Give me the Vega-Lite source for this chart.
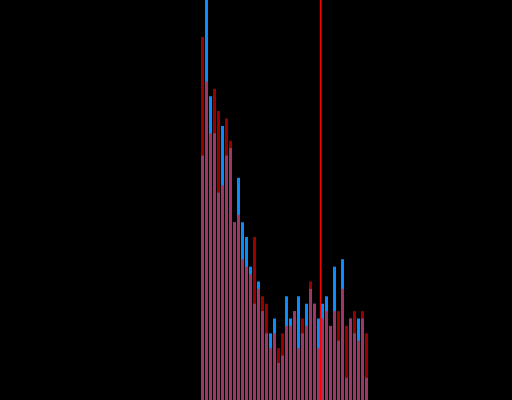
{
  "$schema": "https://vega.github.io/schema/vega-lite/v6.json",
  "width": 512,
  "height": 400,
  "padding": 0,
  "autosize": {"type": "none"},
  "background": "black",
  "config": {"view": {"stroke": null}},
  "datasets": {
    "hist": [
      {"start": 50, "end": 51, "blue": 33, "red": 49},
      {"start": 51, "end": 52, "blue": 54, "red": 43},
      {"start": 52, "end": 53, "blue": 41, "red": 36},
      {"start": 53, "end": 54, "blue": 36, "red": 42},
      {"start": 54, "end": 55, "blue": 28, "red": 39},
      {"start": 55, "end": 56, "blue": 37, "red": 29},
      {"start": 56, "end": 57, "blue": 33, "red": 38},
      {"start": 57, "end": 58, "blue": 34, "red": 35},
      {"start": 58, "end": 59, "blue": 24, "red": 24},
      {"start": 59, "end": 60, "blue": 30, "red": 25},
      {"start": 60, "end": 61, "blue": 24, "red": 19},
      {"start": 61, "end": 62, "blue": 22, "red": 18},
      {"start": 62, "end": 63, "blue": 18, "red": 17},
      {"start": 63, "end": 64, "blue": 13, "red": 22},
      {"start": 64, "end": 65, "blue": 16, "red": 15},
      {"start": 65, "end": 66, "blue": 12, "red": 14},
      {"start": 66, "end": 67, "blue": 9, "red": 13},
      {"start": 67, "end": 68, "blue": 9, "red": 7},
      {"start": 68, "end": 69, "blue": 11, "red": 9},
      {"start": 69, "end": 70, "blue": 5, "red": 7},
      {"start": 70, "end": 71, "blue": 6, "red": 9},
      {"start": 71, "end": 72, "blue": 14, "red": 10},
      {"start": 72, "end": 73, "blue": 11, "red": 10},
      {"start": 73, "end": 74, "blue": 12, "red": 12},
      {"start": 74, "end": 75, "blue": 14, "red": 7},
      {"start": 75, "end": 76, "blue": 9, "red": 11},
      {"start": 76, "end": 77, "blue": 13, "red": 10},
      {"start": 77, "end": 78, "blue": 15, "red": 16},
      {"start": 78, "end": 79, "blue": 13, "red": 13},
      {"start": 79, "end": 80, "blue": 11, "red": 7},
      {"start": 80, "end": 81, "blue": 13, "red": 11},
      {"start": 81, "end": 82, "blue": 14, "red": 12},
      {"start": 82, "end": 83, "blue": 10, "red": 10},
      {"start": 83, "end": 84, "blue": 18, "red": 12},
      {"start": 84, "end": 85, "blue": 8, "red": 12},
      {"start": 85, "end": 86, "blue": 19, "red": 15},
      {"start": 86, "end": 87, "blue": 3, "red": 10},
      {"start": 87, "end": 88, "blue": 11, "red": 11},
      {"start": 88, "end": 89, "blue": 9, "red": 12},
      {"start": 89, "end": 90, "blue": 11, "red": 8},
      {"start": 90, "end": 91, "blue": 11, "red": 12},
      {"start": 91, "end": 92, "blue": 3, "red": 9}
    ],
    "marker": [{"value": 80.15}]
  },
  "layer": [
    {
      "data": {"name": "hist"},
      "mark": {"type": "bar", "color": "#0a8cff", "clip": true},
      "encoding": {
        "x": {"field": "start", "type": "quantitative", "bin": "binned", "scale": {"domain": [0, 128], "nice": false, "zero": false}, "axis": null},
        "x2": {"field": "end"},
        "y": {"field": "blue", "type": "quantitative", "scale": {"domain": [0, 54], "nice": false}, "axis": null}
      }
    },
    {
      "data": {"name": "hist"},
      "mark": {"type": "bar", "color": "#ff0000", "opacity": 0.6, "clip": true},
      "encoding": {
        "x": {"field": "start", "type": "quantitative", "bin": "binned", "axis": null},
        "x2": {"field": "end"},
        "y": {"field": "red", "type": "quantitative", "axis": null}
      }
    },
    {
      "data": {"name": "marker"},
      "mark": {"type": "rule", "color": "#ff0000", "strokeWidth": 1.5},
      "encoding": {
        "x": {"field": "value", "type": "quantitative", "axis": null}
      }
    }
  ]
}
